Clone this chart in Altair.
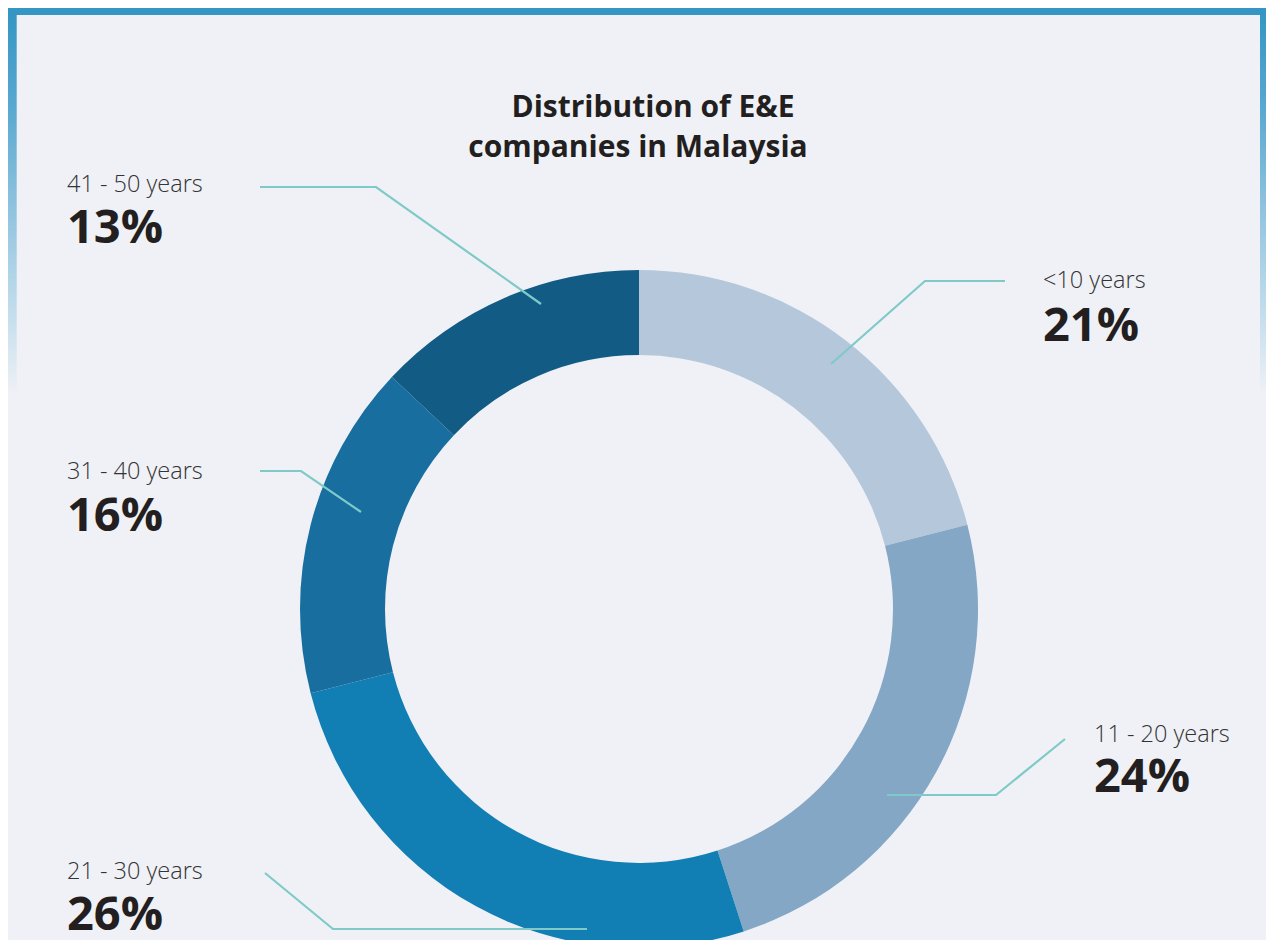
import altair as alt
import pandas as pd

# ---- data ----
categories = ["<10 years", "11 - 20 years", "21 - 30 years", "31 - 40 years", "41 - 50 years"]
shares = [21, 24, 26, 16, 13]
pct_labels = ["21%", "24%", "26%", "16%", "13%"]
colors = ["#b5c7da", "#84a7c5", "#117eb4", "#176e9f", "#125b85"]
title_lines = ["Distribution of E&E", "companies in Malaysia"]

# ---- layout (reference pixel coordinates) ----
W, H = 1258, 932
label_x = [1043, 1094, 67, 67, 67]
label_base = [288, 742, 879, 479, 192]
pct_base = [341, 792, 930, 531, 243]
leaders = [
    [(1005, 281), (925, 281), (831, 364)],
    [(1065, 739), (996, 795), (887, 795)],
    [(265, 873), (333, 929), (587, 929)],
    [(260, 471), (301, 471), (361, 512)],
    [(260, 187), (376, 187), (541, 304)],
]
BG = "#eff1f6"

xs = alt.Scale(domain=[8, 8 + W])
ys = alt.Scale(domain=[8, 8 + H], reverse=True)

pie_df = pd.DataFrame({"cat": categories, "share": shares, "order": list(range(5))})
lab_df = pd.DataFrame({"cat": categories, "pct": pct_labels, "x": label_x,
                       "yl": label_base, "yp": pct_base})
lead_rows = []
for i, pts in enumerate(leaders):
    for j, (px, py) in enumerate(pts):
        lead_rows.append({"id": i, "k": j, "x": px, "y": py})
lead_df = pd.DataFrame(lead_rows)
title_df = pd.DataFrame({"t": title_lines, "x": [653, 638], "y": [117, 157]})

donut = alt.Chart(pie_df).mark_arc(radius=339, radius2=254).encode(
    theta=alt.Theta("share:Q", stack=True),
    order=alt.Order("order:Q"),
    color=alt.Color("cat:N", scale=alt.Scale(domain=categories, range=colors), legend=None),
    x=alt.value(639 - 8),
    y=alt.value(609 - 8),
)

lines = alt.Chart(lead_df).mark_line(color="#7fcac8", strokeWidth=2.2).encode(
    x=alt.X("x:Q", scale=xs, axis=None),
    y=alt.Y("y:Q", scale=ys, axis=None),
    detail="id:N",
    order="k:Q",
)

labels = alt.Chart(lab_df).mark_text(
    align="left", baseline="alphabetic", font="Open Sans", fontWeight=300,
    fontSize=23.5, color="#333333"
).encode(x=alt.X("x:Q", scale=xs, axis=None), y=alt.Y("yl:Q", scale=ys, axis=None), text="cat:N")

pcts = alt.Chart(lab_df).mark_text(
    align="left", baseline="alphabetic", font="Open Sans", fontWeight="bold",
    fontSize=47, color="#231f20"
).encode(x=alt.X("x:Q", scale=xs, axis=None), y=alt.Y("yp:Q", scale=ys, axis=None), text="pct:N")

title = alt.Chart(title_df).mark_text(
    align="center", baseline="alphabetic", font="Open Sans", fontWeight="bold",
    fontSize=30, color="#231f20"
).encode(x=alt.X("x:Q", scale=xs, axis=None), y=alt.Y("y:Q", scale=ys, axis=None), text="t:N")

# decorative frame
top_df = pd.DataFrame({"x": [6], "x2": [1270], "y": [4], "y2": [15]})
side_df = pd.DataFrame({"x": [6, 1260], "x2": [16.7, 1270], "y": [15, 15], "y2": [395, 395]})
grad = alt.Gradient(
    gradient="linear",
    stops=[
        alt.GradientStop(offset=0, color="#3596c4"),
        alt.GradientStop(offset=0.25, color="#5aa9d0"),
        alt.GradientStop(offset=0.5, color="#8ec2de"),
        alt.GradientStop(offset=0.75, color="#bcdaeb"),
        alt.GradientStop(offset=1, color=BG),
    ],
    x1=0, x2=0, y1=0, y2=1,
)
top_bar = alt.Chart(top_df).mark_rect(color="#3596c4").encode(
    x=alt.X("x:Q", scale=xs, axis=None), x2="x2:Q",
    y=alt.Y("y:Q", scale=ys, axis=None), y2="y2:Q",
)
side_bars = alt.Chart(side_df).mark_rect(color=grad).encode(
    x=alt.X("x:Q", scale=xs, axis=None), x2="x2:Q",
    y=alt.Y("y:Q", scale=ys, axis=None), y2="y2:Q",
)

chart = alt.layer(side_bars, top_bar, donut, lines, labels, pcts, title).properties(
    width=W, height=H, padding=0, background=BG,
    autosize=alt.AutoSizeParams(type="none"),
).configure_view(stroke=None)

chart.save("out.html", embed_options={"renderer": "svg", "actions": False})
